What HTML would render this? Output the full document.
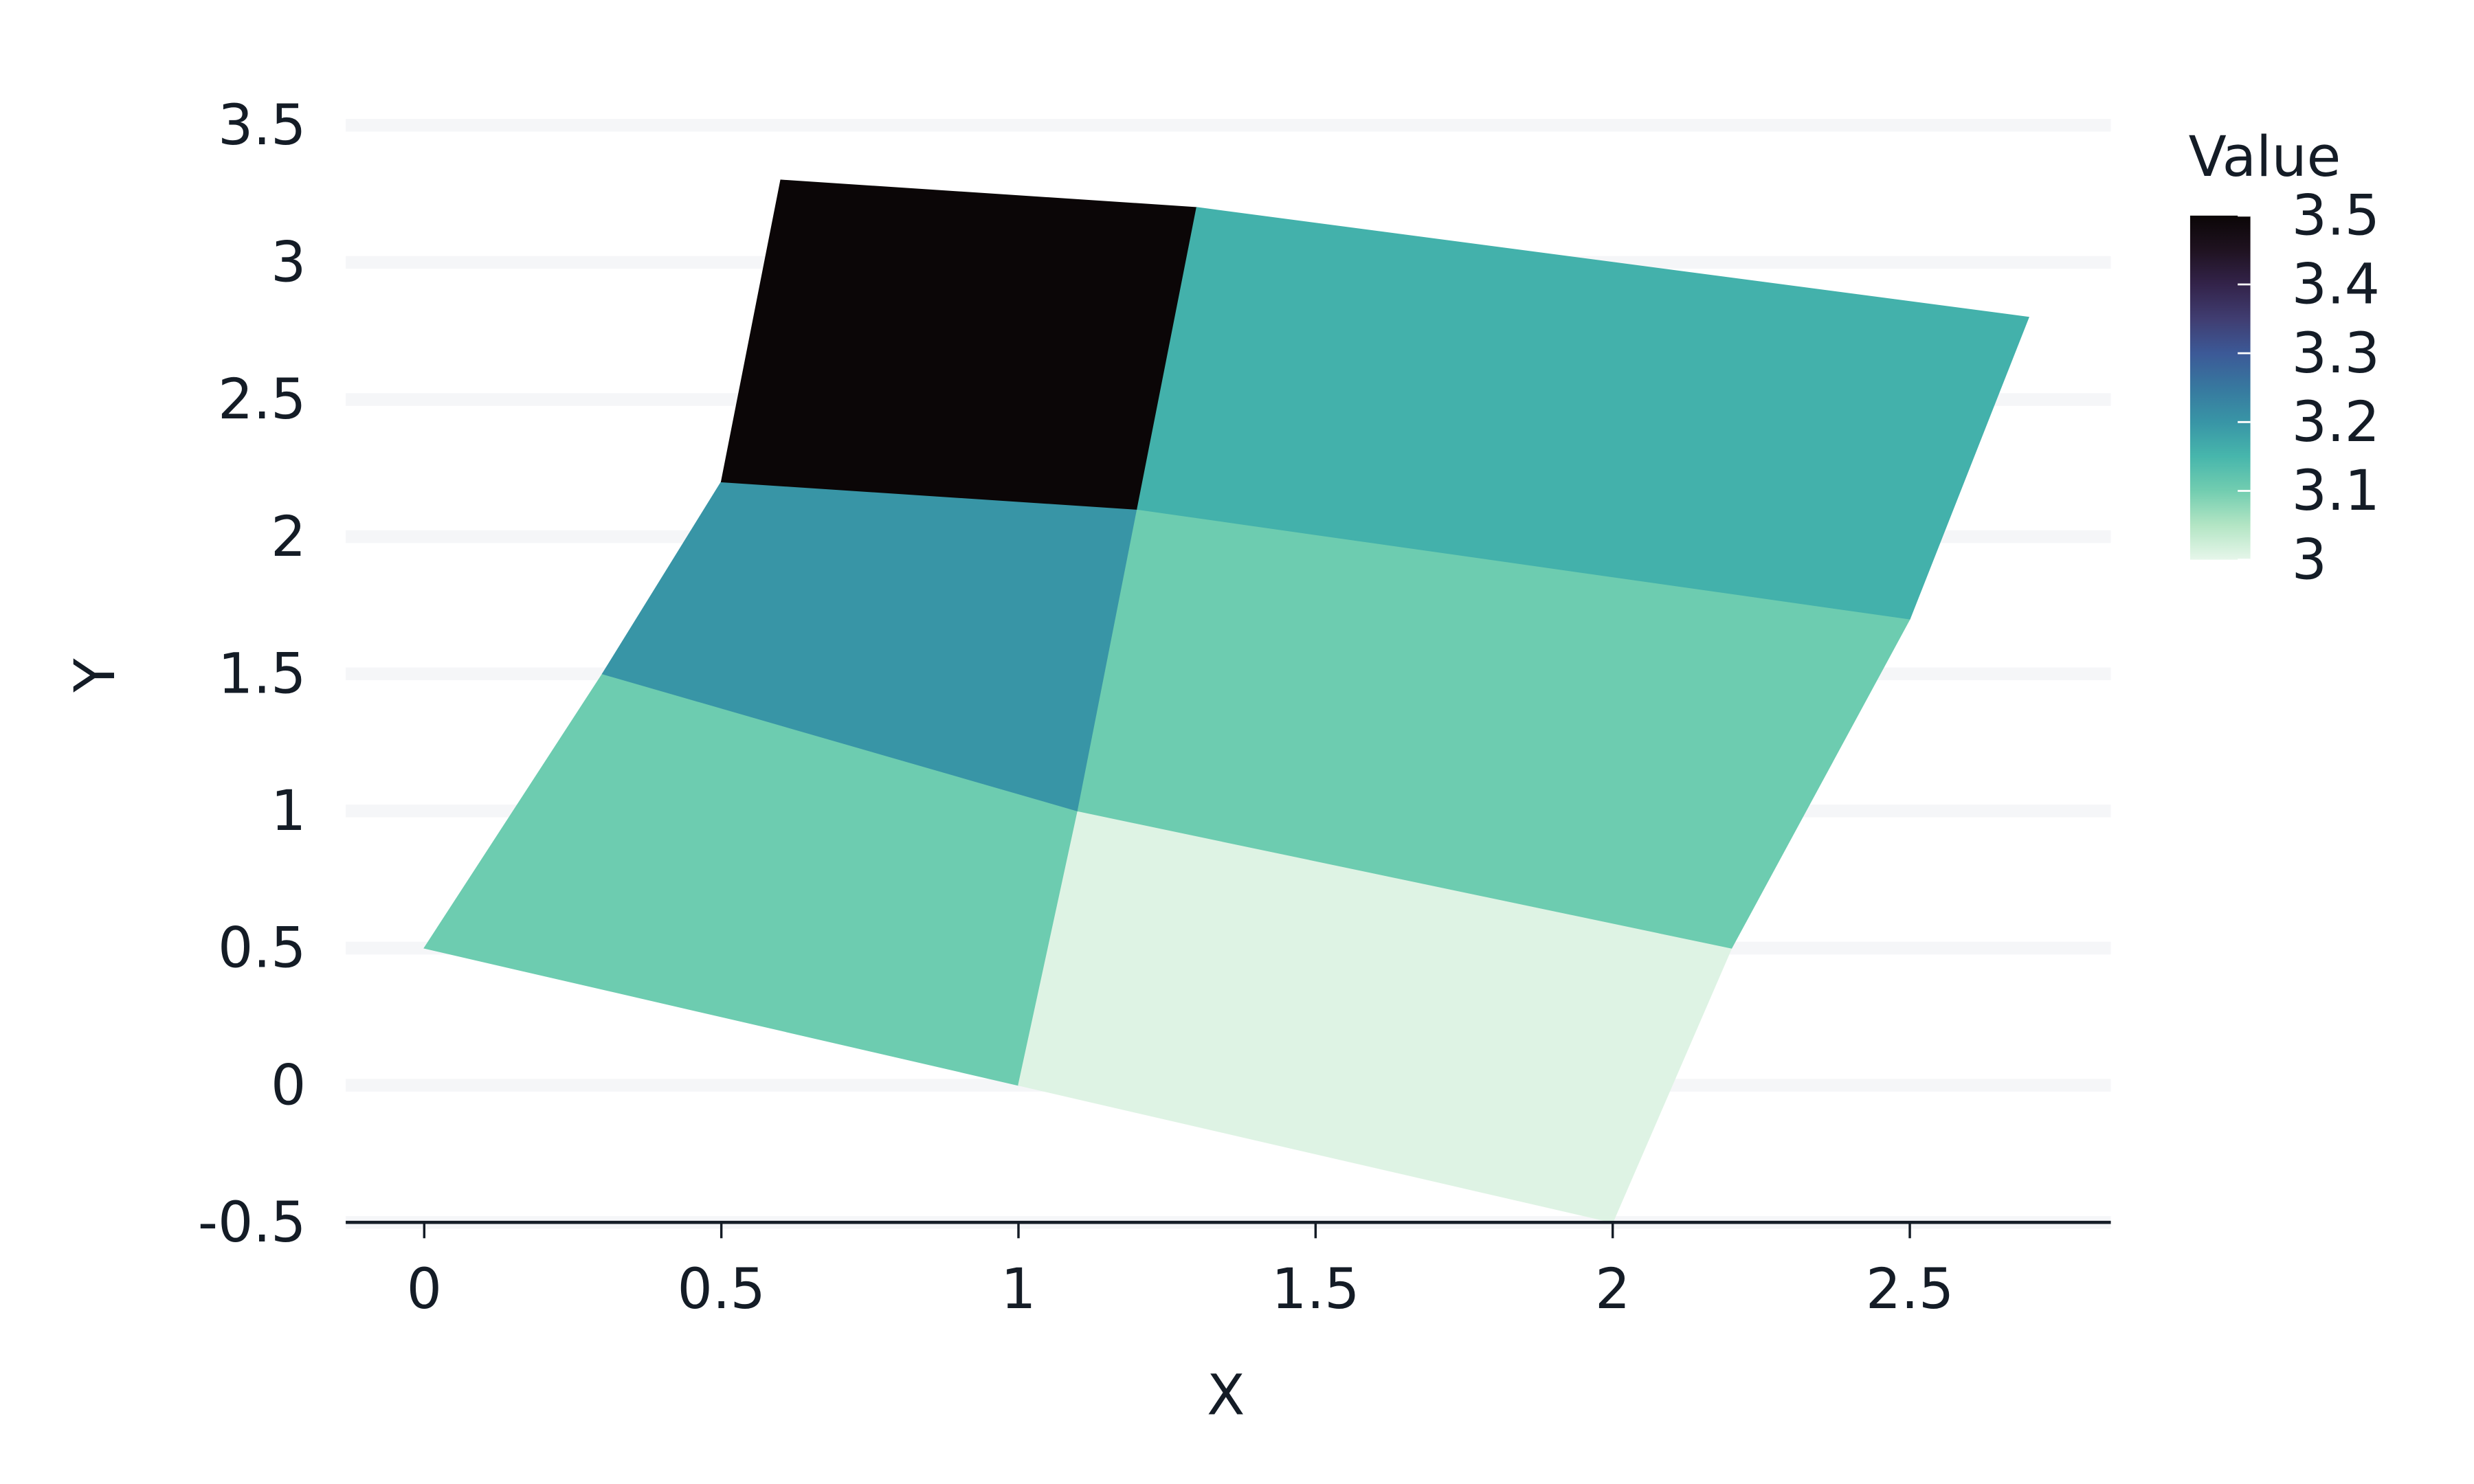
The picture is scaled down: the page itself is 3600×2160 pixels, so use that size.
<!DOCTYPE html>
<html><head><meta charset="utf-8"><style>
html,body{margin:0;padding:0;background:#fff}
svg{display:block}
text{font-family:"DejaVu Sans","Liberation Sans",sans-serif;fill:#141c26}
</style></head><body>
<svg id="chart" width="3600" height="2160" viewBox="0 0 1560 936" xmlns="http://www.w3.org/2000/svg">
<defs><linearGradient id="cbg" x1="0" y1="1" x2="0" y2="0">
<stop offset="0" stop-color="#e6f6ea"/><stop offset="0.1" stop-color="#b3e5c4"/><stop offset="0.2" stop-color="#72cdb0"/><stop offset="0.3" stop-color="#47b6ac"/><stop offset="0.4" stop-color="#3895a6"/><stop offset="0.5" stop-color="#37789f"/><stop offset="0.6" stop-color="#3c5997"/><stop offset="0.7" stop-color="#403d71"/><stop offset="0.8" stop-color="#33234a"/><stop offset="0.9" stop-color="#1f1220"/><stop offset="1" stop-color="#0b0607"/>
</linearGradient></defs>
<g id="grid"></g>
<g id="cells"></g>
<g id="axes"></g>
<text x="773" y="892" font-size="35" text-anchor="middle">X</text>
<text x="0" y="0" font-size="35" text-anchor="middle" transform="translate(72,426) rotate(-90)">Y</text>
<g>
<text x="1380" y="111" font-size="35">Value</text>
<rect x="1381" y="136" width="38" height="217" fill="url(#cbg)"/>
<g id="cbticks"></g>
</g>
</svg>
<script>
const xs = [[0,1,2],[0.3,1.1,2.2],[0.5,1.2,2.5],[0.6,1.3,2.7]];
const ys = [[0.5,0,-0.5],[1.5,1.0,0.5],[2.2,2.1,1.7],[3.3,3.2,2.8]];
const values = [[3.1,3.0],[3.2,3.1],[3.5,3.15]];
const xTicks = [0,0.5,1,1.5,2,2.5];
const yTicks = [-0.5,0,0.5,1,1.5,2,2.5,3,3.5];
const cbTicks = [3,3.1,3.2,3.3,3.4,3.5];
const NS="http://www.w3.org/2000/svg";
const X=v=>267.5+v*374.7, Y=v=>684.5-v*173;
const CB=v=>353-(v-3)/0.5*217;
const stops=[[3.0,[222,243,228]],[3.05,[179,229,196]],[3.1,[109,204,176]],[3.15,[67,177,171]],[3.2,[56,149,166]],[3.25,[55,120,159]],[3.3,[60,89,151]],[3.35,[64,61,113]],[3.4,[51,35,74]],[3.45,[31,18,32]],[3.5,[11,6,7]]];
function col(v){for(let i=0;i<stops.length-1;i++){const[a,ca]=stops[i],[b,cb]=stops[i+1];if(v<=b){const t=Math.max(0,(v-a)/(b-a));return 'rgb('+ca.map((c,k)=>Math.round(c+(cb[k]-c)*t)).join(',')+')';}}return 'rgb(11,6,7)';}
function mk(tag,at,parent){const e=document.createElementNS(NS,tag);for(const k in at)e.setAttribute(k,at[k]);parent.appendChild(e);return e;}
const grid=document.getElementById('grid'),cells=document.getElementById('cells'),axes=document.getElementById('axes'),cbt=document.getElementById('cbticks');
yTicks.forEach(t=>{
 const l=mk('line',{x1:218,x2:1331,y1:Y(t),y2:Y(t),stroke:'#f5f6f8','stroke-width':8},grid);
 
 
 const tx=mk('text',{x:193,y:Y(t)+12,'font-size':35,'text-anchor':'end'},axes);tx.textContent=t;
 
 
});
values.forEach((row,i)=>row.forEach((v,j)=>{
 const p=[[xs[i][j],ys[i][j]],[xs[i][j+1],ys[i][j+1]],[xs[i+1][j+1],ys[i+1][j+1]],[xs[i+1][j],ys[i+1][j]]].map(q=>X(q[0])+','+Y(q[1])).join(' ');
 const c=mk('polygon',{points:p,fill:col(v),stroke:col(v),'stroke-width':0.6},cells);
 
 
}));
const ax=mk('line',{x1:218,x2:1331,y1:771,y2:771,stroke:'#141c26','stroke-width':2},axes);


xTicks.forEach(t=>{
 const tk=mk('line',{x1:X(t),x2:X(t),y1:771,y2:781,stroke:'#141c26','stroke-width':1.5},axes);
 
 
 const tx=mk('text',{x:X(t),y:825,'font-size':35,'text-anchor':'middle'},axes);tx.textContent=t;
 
 
});
cbTicks.forEach(t=>{
 const tk=mk('line',{x1:1411,x2:1419,y1:CB(t),y2:CB(t),stroke:'#fff','stroke-width':1.2},cbt);
 
 
 const tx=mk('text',{x:1445,y:CB(t)+12,'font-size':35},cbt);tx.textContent=t;
 
 
});
</script>
</body></html>
